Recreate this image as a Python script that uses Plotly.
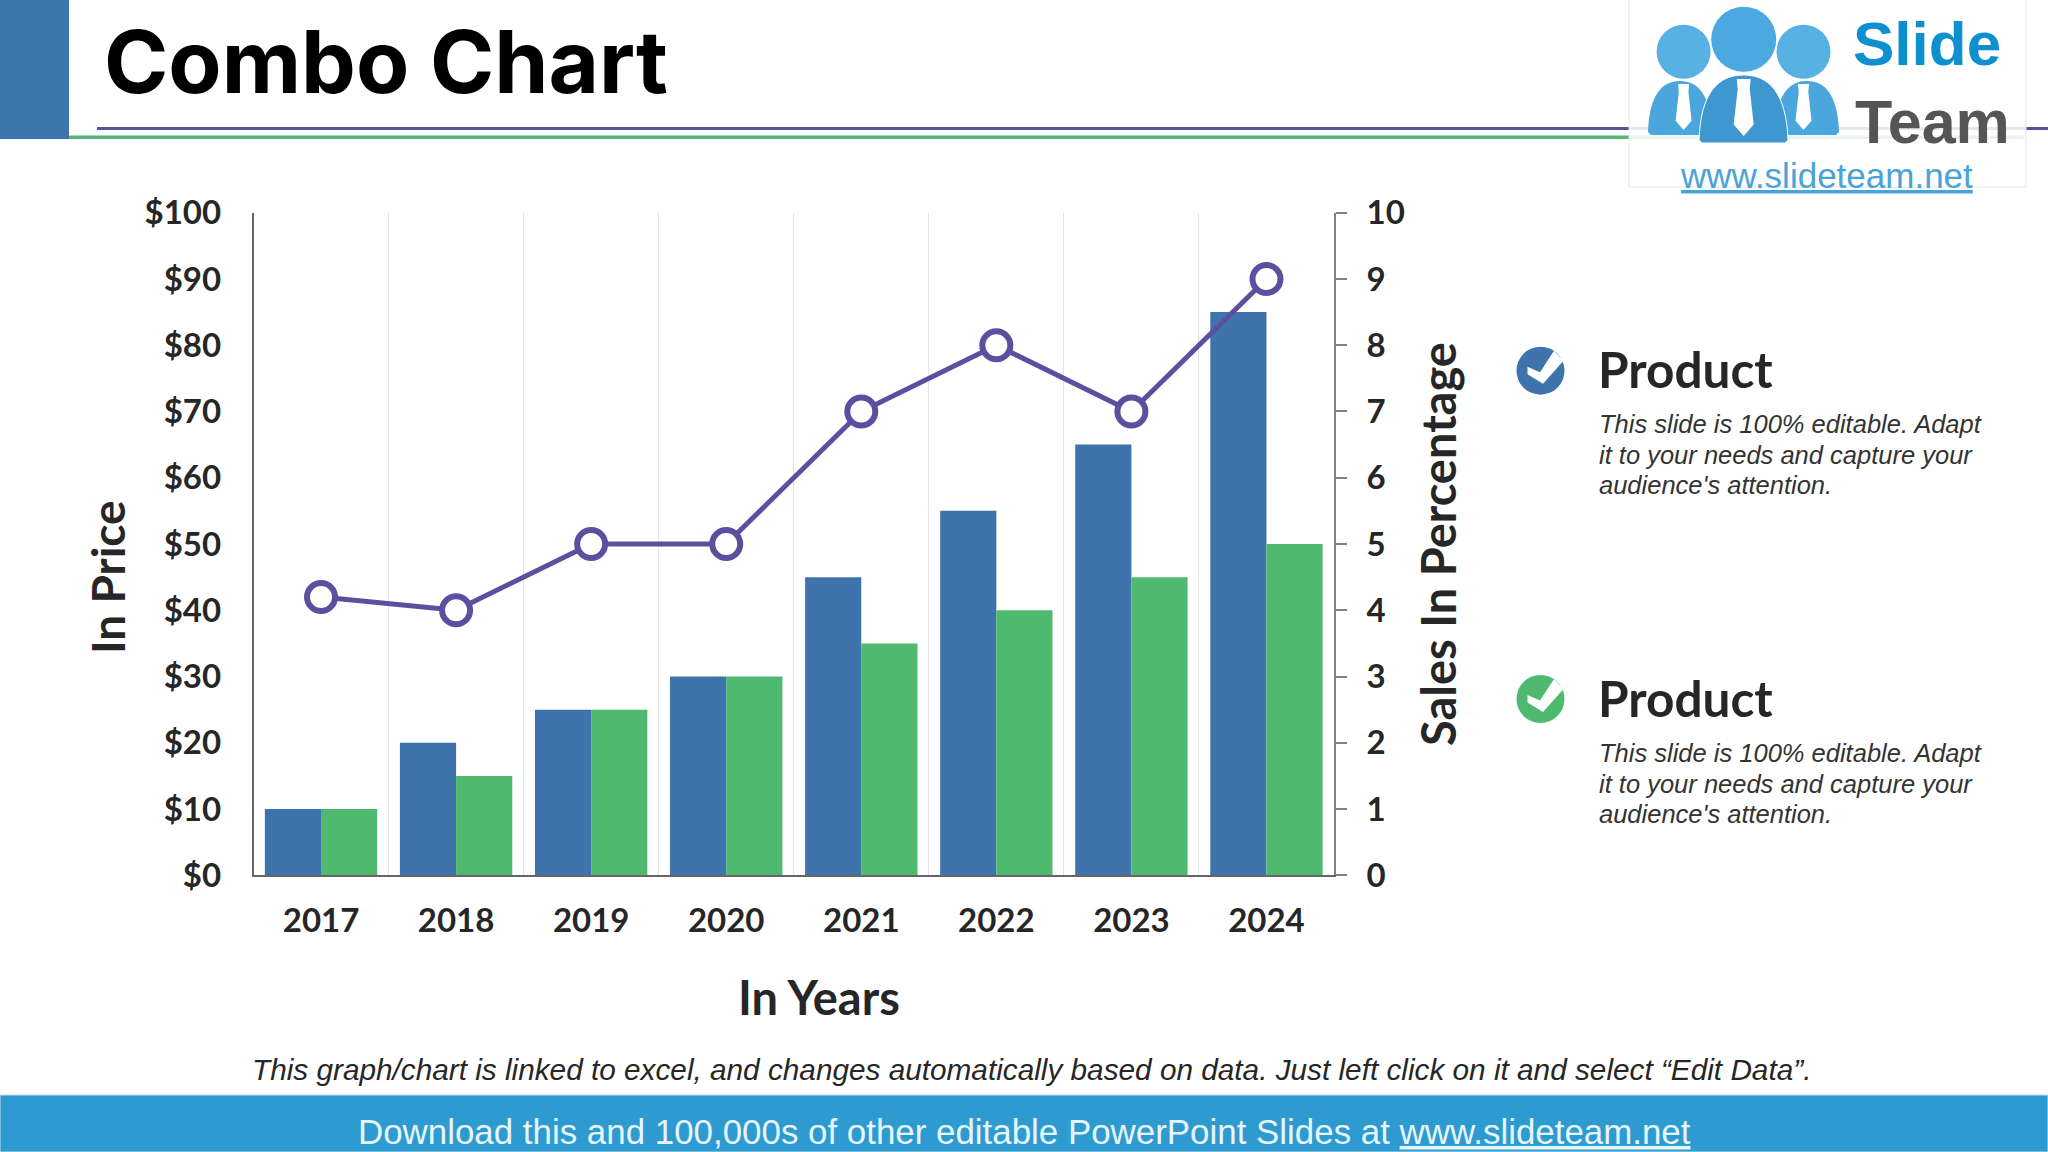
import plotly.graph_objects as go

# ---------- data ----------
years = ["2017", "2018", "2019", "2020", "2021", "2022", "2023", "2024"]
price_blue = [10, 20, 25, 30, 45, 55, 65, 85]
price_green = [10, 15, 25, 30, 35, 40, 45, 50]
sales_pct = [4.2, 4, 5, 5, 7, 8, 7, 9]

title_text = "Combo Chart"
x_title = "In Years"
y_title = "In Price"
y2_title = "Sales In Percentage"
product_head = "Product"
product_lines = ["This slide is 100% editable. Adapt",
                 "it to your needs and capture your",
                 "audience's attention."]
note_text = "This graph/chart is linked to excel, and changes automatically based on data. Just left click on it and select \u201cEdit Data\u201d."
band_text = "Download this and 100,000s of other editable PowerPoint Slides at <u>www.slideteam.net</u>"
logo_url = "<u>www.slideteam.net</u>"

# ---------- palette ----------
BLUE = "#3F73AB"
GREEN = "#50B970"
PURPLE = "#5B50A0"
INK = "#262626"
BAND = "#2E9BD0"
HEAD = "Lato"
BODY = "Liberation Sans"

W, H = 2048, 1152
def px(x): return x / W
def py(y): return 1 - y / H

fig = go.Figure()
fig.add_bar(x=years, y=price_blue, marker=dict(color=BLUE, line_width=0), name="Product 1")
fig.add_bar(x=years, y=price_green, marker=dict(color=GREEN, line_width=0), name="Product 2")
fig.add_scatter(x=years, y=sales_pct, yaxis="y2", mode="lines+markers", name="Sales",
                line=dict(color=PURPLE, width=5),
                marker=dict(size=28, color="white", line=dict(color=PURPLE, width=6)))

tickfont = dict(family=HEAD, size=33, color=INK, weight=700)

shapes = []
def rect(x0, y0, x1, y1, fill, line=None):
    shapes.append(dict(type="rect", xref="paper", yref="paper", x0=px(x0), x1=px(x1), y0=py(y1), y1=py(y0),
                       fillcolor=fill, line=dict(width=1 if line else 0, color=line or fill)))

def circle(cx, cy, r, fill, line=None, lw=0):
    shapes.append(dict(type="circle", xref="paper", yref="paper",
                       x0=px(cx - r), x1=px(cx + r), y0=py(cy + r), y1=py(cy - r),
                       fillcolor=fill, line=dict(width=lw, color=line or fill)))

def poly(points, fill, line=None, lw=0):
    d = "M " + " L ".join(f"{px(x):.5f},{py(y):.5f}" for x, y in points) + " Z"
    shapes.append(dict(type="path", xref="paper", yref="paper", path=d,
                       fillcolor=fill, line=dict(width=lw, color=line or fill)))

# header
rect(0, 0, 69, 139, "#3D76AC")
rect(97, 127, W, 130, PURPLE)
rect(69, 135.5, 2024, 139, "#55B577")

# logo plate (translucent, rules show faintly through)
rect(1629, -2, 2026, 187, "rgba(255,255,255,0.86)", line="#E6E6E6")

def body(x0, x1, ytop, ybot, fill, line=None, lw=0):
    w, h = x1 - x0, ybot - ytop
    def p(x, y): return f"{px(x):.5f},{py(y):.5f}"
    d = ("M " + p(x0, ybot - 3) +
         " C " + p(x0 + 0.02 * w, ytop + 0.25 * h) + " " + p(x0 + 0.22 * w, ytop) + " " + p(x0 + 0.5 * w, ytop) +
         " C " + p(x1 - 0.22 * w, ytop) + " " + p(x1 - 0.02 * w, ytop + 0.25 * h) + " " + p(x1, ybot - 3) +
         " L " + p(x1 - 3, ybot) + " L " + p(x0 + 3, ybot) + " Z")
    shapes.append(dict(type="path", xref="paper", yref="paper", path=d,
                       fillcolor=fill, line=dict(width=lw, color=line or fill)))

def tie(cx, ytop, ybot, hw):
    h = ybot - ytop
    poly([(cx - hw * 0.7, ytop), (cx + hw * 0.7, ytop), (cx + hw * 0.6, ytop + 0.17 * h),
          (cx + hw, ytop + 0.8 * h), (cx, ybot), (cx - hw, ytop + 0.8 * h), (cx - hw * 0.6, ytop + 0.17 * h)], "white")

LOGO = "#4AA6DC"
LOGO_D = "#3F97D0"
circle(1683.6, 51.7, 27, "#58B1E3")
circle(1803.5, 51.7, 27, "#58B1E3")
body(1648, 1712, 81, 135, LOGO)
body(1775, 1839, 81, 135, LOGO)
tie(1683.6, 84, 130, 8)
tie(1803.5, 84, 130, 8)
circle(1743.7, 39.3, 33, "#4CA8DE", line="white", lw=1)
body(1699, 1788, 75, 143, LOGO_D, line="white", lw=1)
tie(1743.7, 79, 136, 10)

# check icons
def check_icon(cx, cy, fill):
    circle(cx, cy, 24, fill)
    poly([(cx - 13, cy - 4), (cx - 0.5, cy + 1.5), (cx + 13.5, cy - 20), (cx + 23, cy - 10),
          (cx + 2.5, cy + 13), (cx - 13, cy + 3.5)], "white")

check_icon(1540.5, 370.7, BLUE)
check_icon(1540.5, 699, GREEN)

# footer band
rect(0, 1095, W, 1152, BAND, line="#BFDDEB")

annotations = []
def note(x, y, text, size, color=INK, family=HEAD, anchor="left", angle=0, weight=None):
    f = dict(family=family, size=size, color=color)
    if weight:
        f["weight"] = weight
    annotations.append(dict(xref="paper", yref="paper", x=px(x), y=py(y), text=text, showarrow=False, font=f,
                            xanchor=anchor, yanchor="middle", textangle=angle, align="left"))

note(102, 62, title_text, 87, color="#000000", family="Inter", weight=700)
note(107, 577, y_title, 46, weight=700, anchor="center", angle=-90)
note(1438, 544, y2_title, 47, weight=700, anchor="center", angle=-90)
note(819, 997, x_title, 47, weight=700, anchor="center")
for ytop, y_head in ((424, 368.5), (753, 697.5)):
    note(1596, y_head, product_head, 49.5, weight=700)
    for i, line in enumerate(product_lines):
        note(1597, ytop + i * 30.7, "<i>" + line + "</i>", 25.5, color="#333333", family=BODY)
note(1031, 1069, "<i>" + note_text + "</i>", 29.75, color=INK, family=BODY, anchor="center")
note(1024.5, 1131, band_text, 34.9, color="#E6F5FC", family=BODY, anchor="center")
note(1851, 44, "Slide", 62, color="#0E90CF", family=BODY, weight=700)
note(1853, 122, "Team", 61, color="#555555", family=BODY, weight=700)
note(1826, 175, logo_url, 35, color="#4AA3D8", family=BODY, anchor="center")

fig.update_layout(
    width=W, height=H, margin=dict(l=0, r=0, t=0, b=0),
    paper_bgcolor="white", plot_bgcolor="white", showlegend=False,
    barmode="group", bargap=0.168, bargroupgap=0,
    shapes=shapes, annotations=annotations,
    xaxis=dict(domain=[px(253.5), px(1334)], type="category", tickson="boundaries", range=[-0.5, 7.5],
               showgrid=True, gridcolor="#E4E4E4", gridwidth=1,
               showline=True, linecolor="#666666", linewidth=1.5, ticks="",
               tickfont=tickfont, ticklabelstandoff=15, automargin=False),
    yaxis=dict(domain=[py(875.3), py(212.7)], range=[0, 100], dtick=10, tickprefix="$",
               showgrid=False, zeroline=False, showline=True, linecolor="#666666", linewidth=1.5,
               ticks="", tickfont=tickfont, ticklabelstandoff=24, automargin=False),
    yaxis2=dict(overlaying="y", side="right", anchor="x", range=[0, 10], dtick=1,
                showgrid=False, zeroline=False, showline=True, linecolor="#808080", linewidth=2,
                ticks="outside", ticklen=11, tickwidth=1.5, tickcolor="#808080",
                tickfont=tickfont, ticklabelstandoff=13, automargin=False),
)

fig.write_html("out.html", config=dict(displayModeBar=False),
               post_script="document.body.style.margin='0';document.body.style.overflow='hidden';")
